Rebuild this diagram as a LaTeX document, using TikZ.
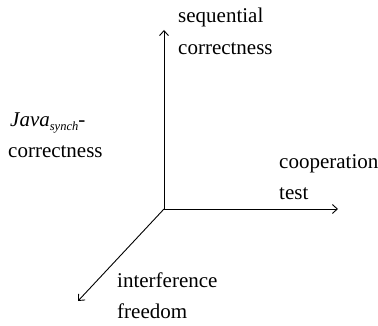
\documentclass[tikz,border=0pt]{standalone}
\usepackage{fontspec}
\setmainfont{Liberation Serif}
\usetikzlibrary{arrows.meta}
\begin{document}
\begin{tikzpicture}[x=1pt,y=-1pt]
\tikzset{
  lbl/.style={anchor=base west, inner sep=0pt, font=\fontsize{21}{25}\selectfont},
  axis/.style={line width=0.9pt, -{Straight Barb[length=5pt,width=9pt,line width=0.9pt]}}
}
\useasboundingbox (0,0) rectangle (378,326);
% axes
\coordinate (o) at (164,209);
\coordinate (up) at (164,30);
\coordinate (rt) at (338,209);
\coordinate (dl) at (78,301);
\draw[axis] (o) -- (up);
\draw[axis] (o) -- (rt);
\draw[axis] (o) -- (dl);
% labels
\node[lbl] (s1) at (178,23) {sequential};
\node[lbl] (s2) at (178,55) {correctness};
\node[lbl] (j1) at (10,127) {\textit{Java}\raisebox{-3.5pt}{\fontsize{12.5}{13}\selectfont\textit{synch}}-};
\node[lbl] (j2) at (8,158) {correctness};
\node[lbl] (c1) at (279,168.5) {cooperation};
\node[lbl] (c2) at (279,199.5) {test};
\node[lbl] (i1) at (117,287.5) {interference};
\node[lbl] (i2) at (117,319) {freedom};
\end{tikzpicture}
\end{document}
